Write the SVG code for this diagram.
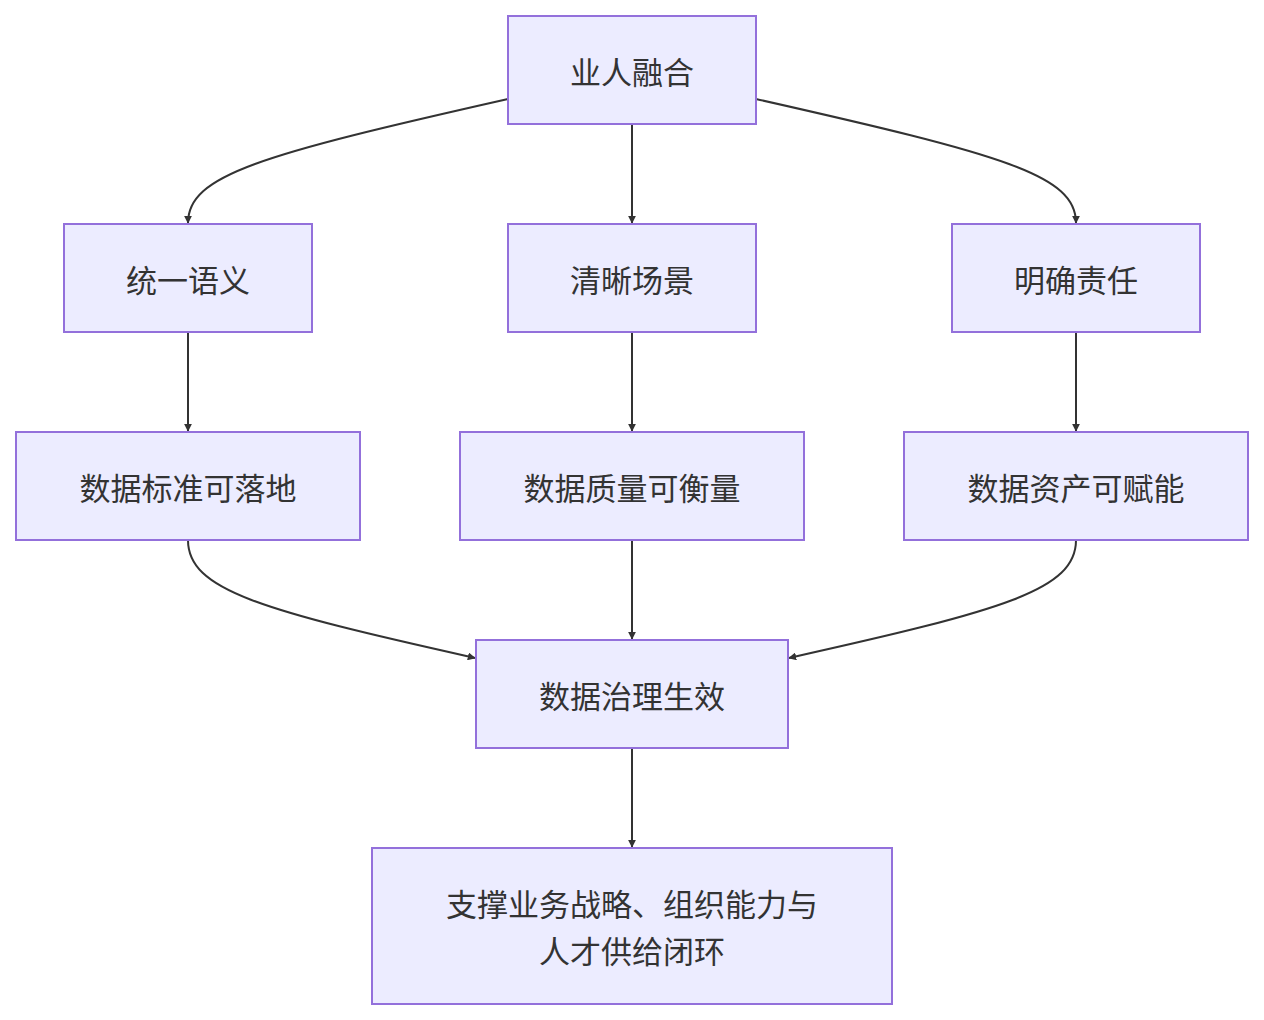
<svg xmlns="http://www.w3.org/2000/svg" width="1264" height="1020" viewBox="0 0 1264 1020">
<style>
.n rect{fill:#ECECFF;stroke:#9370DB;stroke-width:2}
.n text{font-family:"Noto Sans CJK SC","Liberation Sans",sans-serif;font-size:31px;fill:#333;text-anchor:middle;dominant-baseline:central}
.e path{fill:none;stroke:#333;stroke-width:2;marker-end:url(#a)}
</style>
<defs><marker id="a" viewBox="0 0 10 10" refX="9" refY="5" markerWidth="8" markerHeight="8" markerUnits="userSpaceOnUse" orient="auto"><path d="M0,0L10,5L0,10z" fill="#333"/></marker></defs>
<rect width="1264" height="1020" fill="#fff"/>
<g class="e">
<path d="M508,99 C260,155 188,175 188,223"/>
<path d="M632,124 V223"/>
<path d="M756,99 C1004,155 1076,175 1076,223"/>
<path d="M188,332 V431"/>
<path d="M632,332 V431"/>
<path d="M1076,332 V431"/>
<path d="M188,540 C188,590 260,610 475,658"/>
<path d="M632,540 V639"/>
<path d="M1076,540 C1076,590 1004,610 789,658"/>
<path d="M632,748 V847"/>
</g>
<g id="n1" class="n"><rect x="508" y="16" width="248" height="108"/><text x="632" y="70">业人融合</text></g>
<g id="n2" class="n"><rect x="64" y="224" width="248" height="108"/><text x="188" y="278">统一语义</text></g>
<g id="n3" class="n"><rect x="508" y="224" width="248" height="108"/><text x="632" y="278">清晰场景</text></g>
<g id="n4" class="n"><rect x="952" y="224" width="248" height="108"/><text x="1076" y="278">明确责任</text></g>
<g id="n5" class="n"><rect x="16" y="432" width="344" height="108"/><text x="188" y="486">数据标准可落地</text></g>
<g id="n6" class="n"><rect x="460" y="432" width="344" height="108"/><text x="632" y="486">数据质量可衡量</text></g>
<g id="n7" class="n"><rect x="904" y="432" width="344" height="108"/><text x="1076" y="486">数据资产可赋能</text></g>
<g id="n8" class="n"><rect x="476" y="640" width="312" height="108"/><text x="632" y="694">数据治理生效</text></g>
<g id="n9" class="n"><rect x="372" y="848" width="520" height="156"/><text x="632" y="902">支撑业务战略、组织能力与</text><text x="632" y="949">人才供给闭环</text></g>
</svg>
